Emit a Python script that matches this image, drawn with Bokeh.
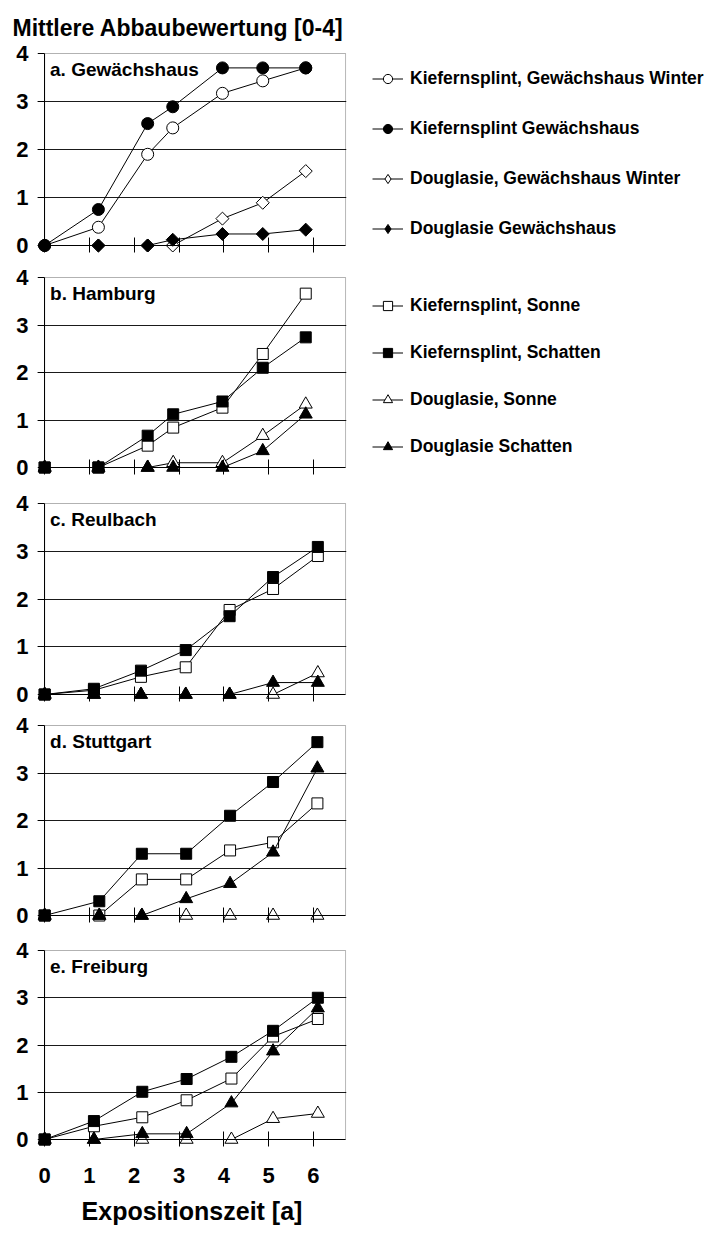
import numpy as np
from bokeh.plotting import figure
from bokeh.layouts import column
from bokeh.models import (Range1d, FixedTicker, Legend, LegendItem, Label, Title,
                          LinearAxis, CustomLabelingPolicy, BoxAnnotation)
from bokeh.embed import file_html
from bokeh.resources import INLINE

FONT = "Liberation Sans"

# ---------------- data ----------------
x_ticks = [0, 1, 2, 3, 4, 5, 6]
y_ticks = [0, 1, 2, 3, 4]
chart_title = "Mittlere Abbaubewertung [0-4]"
x_title = "Expositionszeit [a]"
panel_labels = ["a. Gewächshaus", "b. Hamburg", "c. Reulbach", "d. Stuttgart", "e. Freiburg"]

legend_a = ["Kiefernsplint, Gewächshaus Winter", "Kiefernsplint Gewächshaus",
            "Douglasie, Gewächshaus Winter", "Douglasie Gewächshaus"]
legend_b = ["Kiefernsplint, Sonne", "Kiefernsplint, Schatten",
            "Douglasie, Sonne", "Douglasie Schatten"]

# a. Gewächshaus
a_x = [0, 1.2, 2.3, 2.86, 3.97, 4.87, 5.83]
a_kiefer_winter = [0, 0.38, 1.90, 2.45, 3.17, 3.43, 3.70]
a_kiefer = [0, 0.75, 2.54, 2.89, 3.70, 3.70, 3.70]
a_doug_winter = [0, 0, 0, 0, 0.56, 0.89, 1.55]
a_doug = [0, 0, 0, 0.12, 0.24, 0.24, 0.33]

# b. Hamburg
b_x = [0, 1.2, 2.3, 2.87, 3.97, 4.87, 5.83]
b_kiefer_sonne = [0, 0, 0.46, 0.84, 1.26, 2.39, 3.66]
b_kiefer_schatten = [0, 0, 0.67, 1.12, 1.39, 2.10, 2.74]
b_doug_sonne = [0, 0, 0, 0.10, 0.10, 0.67, 1.33]
b_doug_schatten = [0, 0, 0, 0, 0, 0.35, 1.12]

# c. Reulbach
c_x = [0, 1.1, 2.15, 3.15, 4.13, 5.1, 6.1]
c_kiefer_sonne = [0, 0.09, 0.37, 0.57, 1.77, 2.21, 2.90]
c_kiefer_schatten = [0, 0.12, 0.50, 0.93, 1.64, 2.46, 3.09]
c_doug_sonne = [0, 0, 0, 0, 0, 0, 0.45]
c_doug_schatten = [0, 0, 0, 0, 0, 0.25, 0.25]

# d. Stuttgart
d_x = [0, 1.22, 2.17, 3.16, 4.14, 5.1, 6.09]
d_kiefer_sonne = [0, 0, 0.76, 0.76, 1.37, 1.54, 2.36]
d_kiefer_schatten = [0, 0.30, 1.30, 1.30, 2.10, 2.81, 3.65]
d_doug_sonne = [0, 0, 0, 0, 0, 0, 0]
d_doug_schatten = [0, 0, 0, 0.35, 0.67, 1.33, 3.10]

# e. Freiburg
e_x = [0, 1.1, 2.18, 3.17, 4.17, 5.1, 6.1]
e_kiefer_sonne = [0, 0.28, 0.47, 0.83, 1.29, 2.18, 2.55]
e_kiefer_schatten = [0, 0.39, 1.01, 1.28, 1.75, 2.30, 3.00]
e_doug_sonne = [0, 0, 0, 0, 0, 0.44, 0.55]
e_doug_schatten = [0, 0, 0.12, 0.12, 0.77, 1.87, 2.78]

# ---------------- styles ----------------
STY = {
    "open_circle": dict(marker="circle", size=12, fill_color="white", angle=0.0),
    "circle": dict(marker="circle", size=12, fill_color="black", angle=0.0),
    "open_diamond": dict(marker="square", size=9.2, fill_color="white", angle=np.pi / 4),
    "diamond": dict(marker="square", size=9.2, fill_color="black", angle=np.pi / 4),
    "open_square": dict(marker="square", size=11, fill_color="white", angle=0.0),
    "square": dict(marker="square", size=11, fill_color="black", angle=0.0),
    "open_triangle": dict(marker="triangle", size=13, fill_color="white", angle=0.0),
    "triangle": dict(marker="triangle", size=13, fill_color="black", angle=0.0),
}

X_BOX = 6.72     # right edge of the drawn box
X_END = 6.74     # right end of the x range
X_PAD = 0.16     # room left of x=0 so edge markers are not cut
PAD_PX = 8       # room below y=0 (pixels)
TOP_PX = 1       # room above y=4 (pixels)


def no_labels():
    return CustomLabelingPolicy(
        code="const n = indices.size; for (let i = 0; i < n; i++) { indices.unset(i) } return indices")


def make_panel(label, xs, series, top, fh, bottom, last=False):
    ppu = fh / 4.0
    p = figure(frame_width=309, frame_height=fh + PAD_PX + TOP_PX,
               x_range=Range1d(-X_PAD, X_END),
               y_range=Range1d(-PAD_PX / ppu, 4 + TOP_PX / ppu),
               output_backend="svg", toolbar_location=None,
               min_border_left=37, min_border_right=359,
               min_border_top=top, min_border_bottom=bottom)
    p.background_fill_color = "white"
    p.border_fill_color = "white"
    p.outline_line_color = None

    p.xgrid.visible = False
    p.ygrid.ticker = FixedTicker(ticks=[1, 2, 3])
    p.ygrid.grid_line_color = "#1a1a1a"
    p.ygrid.grid_line_width = 1

    # the box round the plot area
    p.add_layout(BoxAnnotation(left=0, right=X_BOX, bottom=0, top=4,
                               fill_alpha=0, fill_color=None,
                               line_color="black", line_width=1, level="underlay"))

    # y labels (frame edge axis, no line / ticks)
    ya = p.yaxis[0]
    ya.ticker = FixedTicker(ticks=y_ticks)
    ya.axis_line_color = None
    ya.major_tick_line_color = None
    ya.minor_tick_line_color = None
    ya.major_tick_out = 0
    ya.major_tick_in = 0
    ya.major_label_standoff = 9
    ya.major_label_text_font = FONT
    ya.major_label_text_font_style = "bold"
    ya.major_label_text_font_size = "22px"
    ya.major_label_text_color = "black"

    # y ticks at x = 0
    yt = LinearAxis(fixed_location=0, bounds=(0, 4), ticker=FixedTicker(ticks=y_ticks),
                    axis_line_color="black", major_tick_line_color="black",
                    minor_tick_line_color=None, major_tick_out=7, major_tick_in=0,
                    major_label_text_font_size="0px", major_label_standoff=0,
                    major_label_policy=no_labels())
    p.add_layout(yt, "left")

    xa = p.xaxis[0]
    if last:
        xa.ticker = FixedTicker(ticks=x_ticks)
        xa.axis_line_color = None
        xa.major_tick_line_color = None
        xa.minor_tick_line_color = None
        xa.major_tick_out = 0
        xa.major_tick_in = 0
        xa.major_label_text_font = FONT
        xa.major_label_text_font_style = "bold"
        xa.major_label_text_font_size = "22px"
        xa.major_label_text_color = "black"
        xa.major_label_standoff = 20
        xa.axis_label = x_title
        xa.axis_label_text_font = FONT
        xa.axis_label_text_font_style = "bold"
        xa.axis_label_text_font_size = "25px"
        xa.axis_label_text_color = "black"
        xa.axis_label_standoff = 11
    else:
        xa.visible = False

    # x ticks at y = 0
    xt = LinearAxis(fixed_location=0, bounds=(0, X_BOX), ticker=FixedTicker(ticks=x_ticks),
                    axis_line_color="black", major_tick_line_color="black",
                    minor_tick_line_color=None, major_tick_out=7, major_tick_in=8,
                    major_label_text_font_size="0px", major_label_standoff=0,
                    major_label_policy=no_labels())
    p.add_layout(xt, "below")

    items = []
    for ys, style, name in series:
        st = STY[style]
        rl = p.line(xs, ys, line_color="black", line_width=1)
        rm = p.scatter(xs, ys, marker=st["marker"], size=st["size"],
                       fill_color=st["fill_color"], line_color="black",
                       line_width=1, angle=st["angle"])
        if style.endswith("diamond"):
            # zero-size twin used only to show a diamond in the legend
            rm = p.scatter(xs, ys, marker="diamond", size=0,
                           fill_color=st["fill_color"], line_color="black",
                           line_width=1)
        items.append((name, [rl, rm]))

    p.add_layout(Label(x=0.12, y=3.66, text=label, text_font=FONT,
                       text_font_style="bold", text_font_size="19px",
                       text_baseline="middle", text_color="black"))
    return p, items


def add_legend(p, items, order, vy, spacing):
    lookup = dict(items)
    leg = Legend(items=[LegendItem(label=n, renderers=lookup[n]) for n in order],
                 location=(26, vy), glyph_width=31, glyph_height=23,
                 label_height=20, spacing=spacing, padding=0, margin=0,
                 label_standoff=7, border_line_color=None,
                 background_fill_alpha=0,
                 label_text_font=FONT, label_text_font_style="bold",
                 label_text_font_size="17.5px", label_text_color="black")
    p.add_layout(leg, "right")


# a
pa, ia = make_panel(panel_labels[0], a_x, [
    (a_doug_winter, "open_diamond", legend_a[2]),
    (a_doug, "diamond", legend_a[3]),
    (a_kiefer_winter, "open_circle", legend_a[0]),
    (a_kiefer, "circle", legend_a[1]),
], top=52, fh=192, bottom=8)
add_legend(pa, ia, legend_a, vy=13.5, spacing=27)
pa.title = Title(text=chart_title, align="left", offset=-25, standoff=24,
                 vertical_align="bottom", text_font=FONT, text_font_style="bold",
                 text_font_size="23px", text_color="black")

# b
pb, ib = make_panel(panel_labels[1], b_x, [
    (b_kiefer_sonne, "open_square", legend_b[0]),
    (b_doug_sonne, "open_triangle", legend_b[2]),
    (b_doug_schatten, "triangle", legend_b[3]),
    (b_kiefer_schatten, "square", legend_b[1]),
], top=15, fh=190, bottom=8)
add_legend(pb, ib, legend_b, vy=17.5, spacing=24)

pc, _ = make_panel(panel_labels[2], c_x, [
    (c_kiefer_sonne, "open_square", legend_b[0]),
    (c_doug_sonne, "open_triangle", legend_b[2]),
    (c_doug_schatten, "triangle", legend_b[3]),
    (c_kiefer_schatten, "square", legend_b[1]),
], top=19, fh=191, bottom=8)

pd_, _ = make_panel(panel_labels[3], d_x, [
    (d_kiefer_sonne, "open_square", legend_b[0]),
    (d_doug_sonne, "open_triangle", legend_b[2]),
    (d_doug_schatten, "triangle", legend_b[3]),
    (d_kiefer_schatten, "square", legend_b[1]),
], top=14, fh=190, bottom=8)

pe, _ = make_panel(panel_labels[4], e_x, [
    (e_kiefer_sonne, "open_square", legend_b[0]),
    (e_doug_sonne, "open_triangle", legend_b[2]),
    (e_doug_schatten, "triangle", legend_b[3]),
    (e_kiefer_schatten, "square", legend_b[1]),
], top=18, fh=189, bottom=86, last=True)

layout = column(pa, pb, pc, pd_, pe, spacing=0)
open("out.html", "w").write(file_html(layout, INLINE))
